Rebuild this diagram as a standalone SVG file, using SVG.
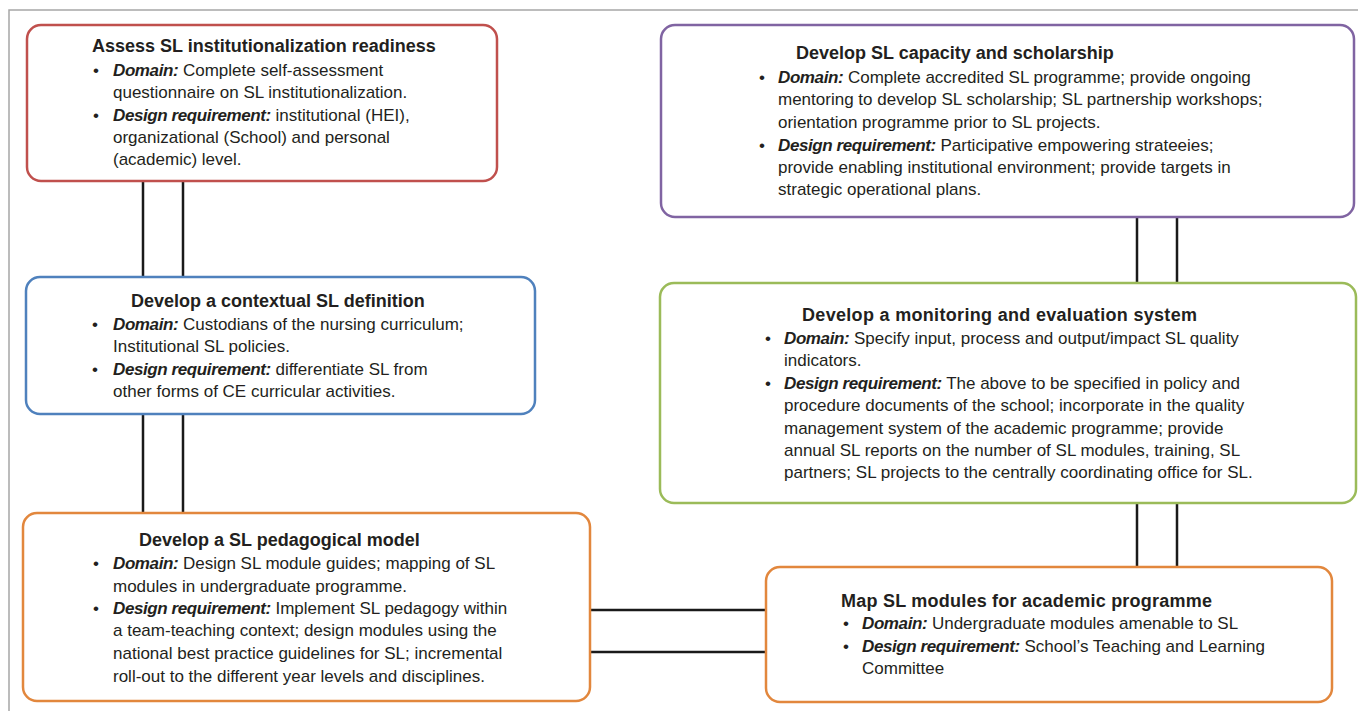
<svg xmlns="http://www.w3.org/2000/svg" width="1358" height="711" viewBox="0 0 1358 711">
<style>
.box{fill:#fff;stroke-width:2.5}
.t{font-family:"Liberation Sans",Arial,sans-serif;font-size:18px;font-weight:bold;fill:#231f20}
.b{font-family:"Liberation Sans",Arial,sans-serif;font-size:17px;fill:#231f20}
.k{font-weight:bold;font-style:italic;letter-spacing:-0.4px}
.c{stroke:#1a1a1a;stroke-width:2.5;fill:none}
</style>
<rect width="1358" height="711" fill="#fff"/>
<path d="M9 711V10H1358" fill="none" stroke="#a6a6a6" stroke-width="1.5"/>
<g id="connectors">
<path class="c" d="M143 181V277M183 181V277M143 414V513M183 414V513"/>
<path class="c" d="M1137 217V283M1177 217V283M1137 503V567M1177 503V567"/>
<path class="c" d="M590 610H766M590 652H766"/>
</g>
<g id="n1">
<rect class="box" x="27" y="25" width="470" height="156" rx="14" stroke="#c0504d"/>
<text class="t" x="92" y="52">Assess SL institutionalization readiness</text>
<text class="b" x="93" y="76">•</text>
<text class="b" x="113" y="76"><tspan class="k">Domain:</tspan> Complete self-assessment</text>
<text class="b" x="113" y="98">questionnaire on SL institutionalization.</text>
<text class="b" x="93" y="121">•</text>
<text class="b" x="113" y="121"><tspan class="k">Design requirement:</tspan> institutional (HEI),</text>
<text class="b" x="113" y="143">organizational (School) and personal</text>
<text class="b" x="113" y="165">(academic) level.</text>
</g>
<g id="n2">
<rect class="box" x="26" y="277" width="509" height="137" rx="14" stroke="#4f81bd"/>
<text class="t" x="131" y="307">Develop a contextual SL definition</text>
<text class="b" x="92" y="330">•</text>
<text class="b" x="113" y="330"><tspan class="k">Domain:</tspan> Custodians of the nursing curriculum;</text>
<text class="b" x="113" y="352">Institutional SL policies.</text>
<text class="b" x="92" y="375">•</text>
<text class="b" x="113" y="375"><tspan class="k">Design requirement:</tspan> differentiate SL from</text>
<text class="b" x="113" y="397">other forms of CE curricular activities.</text>
</g>
<g id="n3">
<rect class="box" x="23" y="513" width="567" height="188" rx="14" stroke="#e2873d"/>
<text class="t" x="139" y="546">Develop a SL pedagogical model</text>
<text class="b" x="93" y="569">•</text>
<text class="b" x="113" y="569"><tspan class="k">Domain:</tspan> Design SL module guides; mapping of SL</text>
<text class="b" x="113" y="592">modules in undergraduate programme.</text>
<text class="b" x="93" y="614">•</text>
<text class="b" x="113" y="614"><tspan class="k">Design requirement:</tspan> Implement SL pedagogy within</text>
<text class="b" x="113" y="636">a team-teaching context; design modules using the</text>
<text class="b" x="113" y="659">national best practice guidelines for SL; incremental</text>
<text class="b" x="113" y="682">roll-out to the different year levels and disciplines.</text>
</g>
<g id="n4">
<rect class="box" x="661" y="25" width="693" height="192" rx="14" stroke="#8064a2"/>
<text class="t" x="796" y="59">Develop SL capacity and scholarship</text>
<text class="b" x="759" y="83">•</text>
<text class="b" x="778" y="83"><tspan class="k">Domain:</tspan> Complete accredited SL programme; provide ongoing</text>
<text class="b" x="778" y="105">mentoring to develop SL scholarship; SL partnership workshops;</text>
<text class="b" x="778" y="128">orientation programme prior to SL projects.</text>
<text class="b" x="759" y="151">•</text>
<text class="b" x="778" y="151"><tspan class="k">Design requirement:</tspan> Participative empowering strateeies;</text>
<text class="b" x="778" y="173">provide enabling institutional environment; provide targets in</text>
<text class="b" x="778" y="195">strategic operational plans.</text>
</g>
<g id="n5">
<rect class="box" x="660" y="283" width="696" height="220" rx="14" stroke="#9bbb59"/>
<text class="t" x="802" y="321" textLength="395">Develop a monitoring and evaluation system</text>
<text class="b" x="765" y="344">•</text>
<text class="b" x="784" y="344"><tspan class="k">Domain:</tspan> Specify input, process and output/impact SL quality</text>
<text class="b" x="784" y="366">indicators.</text>
<text class="b" x="765" y="389">•</text>
<text class="b" x="784" y="389"><tspan class="k">Design requirement:</tspan> The above to be specified in policy and</text>
<text class="b" x="784" y="411">procedure documents of the school; incorporate in the quality</text>
<text class="b" x="784" y="434">management system of the academic programme; provide</text>
<text class="b" x="784" y="456">annual SL reports on the number of SL modules, training, SL</text>
<text class="b" x="784" y="478">partners; SL projects to the centrally coordinating office for SL.</text>
</g>
<g id="n6">
<rect class="box" x="766" y="567" width="566" height="135" rx="14" stroke="#e2873d"/>
<text class="t" x="841" y="607" textLength="371">Map SL modules for academic programme</text>
<text class="b" x="843" y="629">•</text>
<text class="b" x="862" y="629"><tspan class="k">Domain:</tspan> Undergraduate modules amenable to SL</text>
<text class="b" x="843" y="652">•</text>
<text class="b" x="862" y="652"><tspan class="k">Design requirement:</tspan> School’s Teaching and Learning</text>
<text class="b" x="862" y="674">Committee</text>
</g>
</svg>
